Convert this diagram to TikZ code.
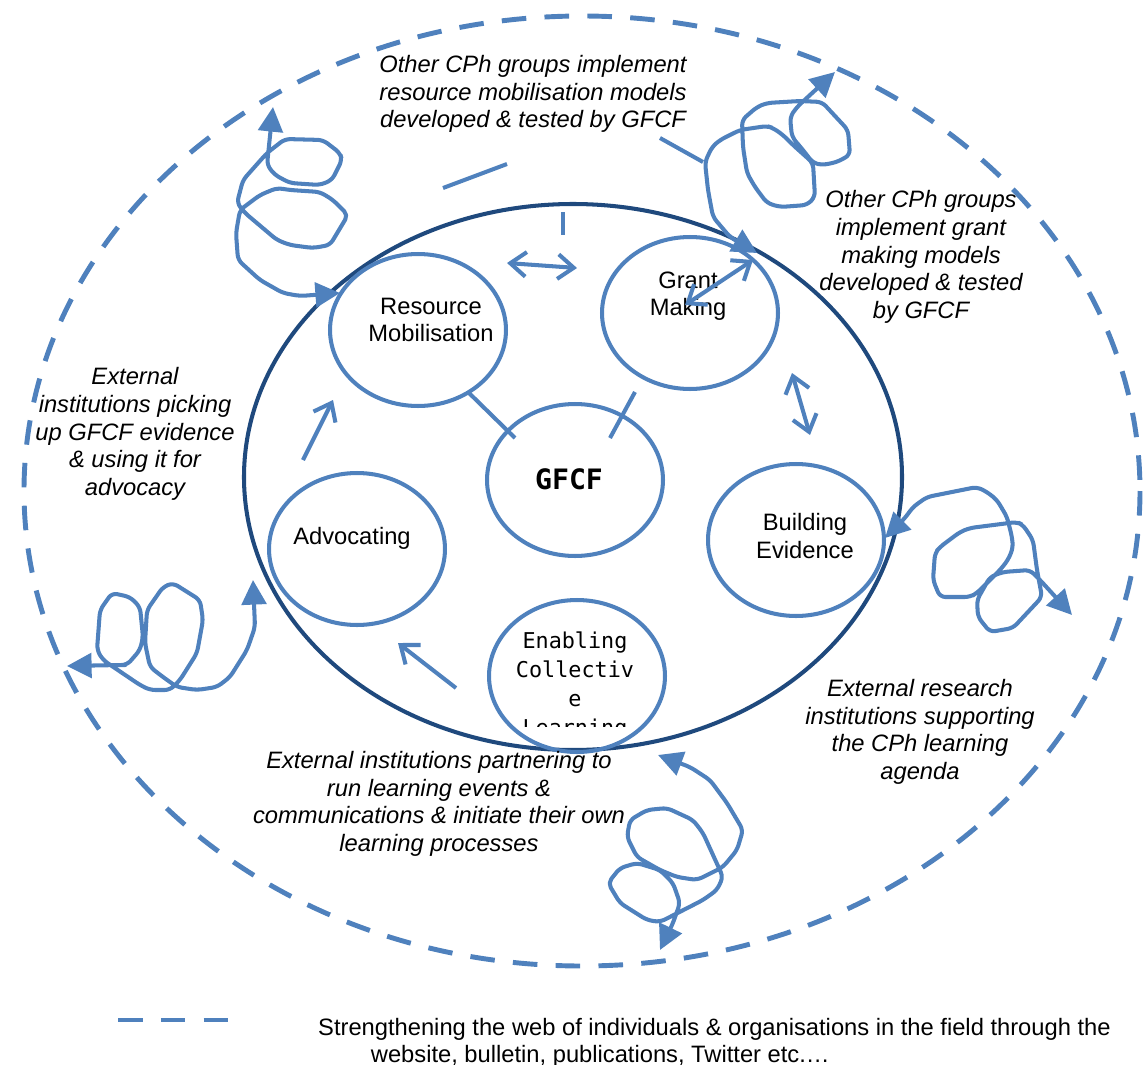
\documentclass[tikz,border=0pt]{standalone}
\usepackage{fontspec}
\setmainfont{Liberation Sans}
\setmonofont{DejaVu Sans Mono}
\usepackage{xcolor}
\usetikzlibrary{arrows.meta,shapes.geometric}
\definecolor{cphblue}{RGB}{79,129,189}
\definecolor{cphnavy}{RGB}{31,73,125}
\tikzset{
  ring/.style={ellipse, draw=cphblue, line width=2.3pt, minimum width=3.52cm, minimum height=3.04cm, inner sep=0pt},
  lbl/.style={align=center, font=\fontsize{13.5}{15.4}\selectfont},
  monolbl/.style={align=center, font=\ttfamily\fontsize{12.4}{16.4}\selectfont},
  note/.style={align=center, font=\fontsize{13.5}{15.7}\selectfont\itshape},
  web/.style={cphblue, line width=2.8pt, dash pattern=on 14pt off 10.4pt},
  twoway/.style={{Straight Barb[length=9pt,width=14pt]}-{Straight Barb[length=9pt,width=14pt]}, cphblue, line width=2.3pt},
  oneway/.style={-{Straight Barb[length=9pt,width=14pt]}, cphblue, line width=2.3pt},
  tie/.style={cphblue, line width=2.3pt},
  doodle/.style={{Triangle[length=14pt,width=14pt]}-{Triangle[length=14pt,width=14pt]}, cphblue, line width=2.3pt, rounded corners=3pt, line join=round},
}

\begin{document}
\begin{tikzpicture}[x=0.02cm, y=-0.02cm]
\useasboundingbox (0,0) rectangle (1144,1065);

% field and the GFCF core
\draw[web] (582,491) ellipse [x radius=558, y radius=475];
\draw[cphnavy, line width=2.3pt] (573,477) ellipse [x radius=329, y radius=273];

% the five functions round GFCF
\node[ring] (rm)   at (418,330) {};
\node[ring] (gm)   at (690,313) {};
\node[ring] (gfcf) at (575,480) {};
\node[ring] (be)   at (796,540) {};
\node[ring] (adv)  at (357,549) {};
\node[ring] (ecl)  at (577,676) {};

\node[lbl] (rmtxt)  at (431,320) {Resource\\Mobilisation};
\node[lbl] (gmtxt)  at (688,296) {Grant\\Making};
\node[font=\ttfamily\bfseries\fontsize{16}{19}\selectfont] (gfcftxt) at (569,479) {GFCF};
\node[lbl] (betxt)  at (805,536) {Building\\Evidence};
\node[lbl] (advtxt) at (352,538) {Advocating};
\begin{scope}
  \clip (480,600) rectangle (670,726);
  \node[monolbl] (ecltxt) at (575,686) {Enabling\\Collectiv\\e\\Learning};
\end{scope}

% links inside the core
\coordinate (rmA) at (507,263);  \coordinate (gmA) at (577,268);
\coordinate (gmB) at (685,305);  \coordinate (gmC) at (753,260);
\coordinate (gmD) at (792,373);  \coordinate (beA) at (810,435);
\coordinate (advA) at (303,460); \coordinate (rmB) at (333,400);
\coordinate (eclA) at (456,688); \coordinate (advB) at (398,643);
\coordinate (rmC) at (468,392);  \coordinate (gfA) at (515,438);
\coordinate (gmE) at (635,392);  \coordinate (gfB) at (610,438);
\coordinate (tkA) at (563,212);  \coordinate (tkB) at (563,235);
\coordinate (tkC) at (443,188);  \coordinate (tkD) at (507,164);
\coordinate (tkE) at (660,138);  \coordinate (tkF) at (703,162);

\draw[twoway] (rmA) -- (gmA);
\draw[twoway] (gmB) -- (gmC);
\draw[twoway] (gmD) -- (beA);
\draw[oneway] (advA) -- (rmB);
\draw[oneway] (eclA) -- (advB);
\draw[tie] (rmC) -- (gfA);
\draw[tie] (gmE) -- (gfB);
\draw[tie] (tkA) -- (tkB);
\draw[tie] (tkC) -- (tkD);
\draw[tie] (tkE) -- (tkF);

% loops reaching out into the field
\draw[doodle] (273,107) -- (267,165) -- (275,175) -- (290,183) -- (320,185) -- (332,180) -- (342,160) -- (340,153) -- (323,140) -- (285,139) -- (267,153) -- (243,180) -- (237,203) -- (245,213) -- (277,240) -- (290,245) -- (313,248) -- (330,245) -- (348,215) -- (333,200) -- (320,192) -- (290,190) -- (277,188) -- (260,195) -- (240,210) -- (236,233) -- (238,260) -- (260,280) -- (283,293) -- (300,296) -- (340,293);
\draw[doodle] (757,253) -- (730,237) -- (713,217) -- (708,190) -- (705,162) -- (712,147) -- (720,140) -- (740,130) -- (767,126) -- (773,128) -- (783,135) -- (793,145) -- (813,163) -- (815,197) -- (807,205) -- (780,207) -- (767,203) -- (755,187) -- (747,173) -- (743,147) -- (742,120) -- (757,107) -- (767,103) -- (800,101) -- (822,102) -- (848,130) -- (850,155) -- (837,162) -- (823,165) -- (813,163) -- (803,150) -- (792,137) -- (790,117) -- (797,107) -- (835,72);
\draw[doodle] (885,538) -- (905,518) -- (913,507) -- (927,497) -- (977,487) -- (987,492) -- (997,500) -- (1007,517) -- (1012,537) -- (1013,548) -- (1008,560) -- (1000,570) -- (977,593) -- (970,597) -- (940,597) -- (933,580) -- (935,553) -- (940,547) -- (960,532) -- (970,528) -- (1017,522) -- (1023,525) -- (1033,540) -- (1037,570) -- (1042,597) -- (1013,628) -- (990,632) -- (978,617) -- (977,600) -- (990,577) -- (1003,572) -- (1030,570) -- (1040,580) -- (1072,615);
\draw[doodle] (67,666) -- (120,665) -- (127,665) -- (140,650) -- (143,637) -- (140,607) -- (130,597) -- (112,593) -- (100,610) -- (97,650) -- (103,660) -- (140,685) -- (150,690) -- (170,690) -- (180,680) -- (197,653) -- (203,620) -- (200,600) -- (173,583) -- (163,587) -- (147,610) -- (145,643) -- (150,667) -- (163,677) -- (177,687) -- (197,690) -- (217,687) -- (230,677) -- (247,650) -- (255,627) -- (253,580);
\draw[doodle] (658,755) -- (690,767) -- (710,780) -- (727,803) -- (743,830) -- (737,850) -- (723,867) -- (697,880) -- (677,877) -- (660,870) -- (637,857) -- (627,837) -- (630,820) -- (647,810) -- (667,808) -- (693,820) -- (703,833) -- (723,877) -- (717,890) -- (703,900) -- (660,922) -- (647,920) -- (620,903) -- (608,883) -- (620,868) -- (637,863) -- (660,870) -- (673,883) -- (680,903) -- (673,923) -- (660,950);

% what others take up
\node[note] (notemob)   at (533,94)  {Other CPh groups implement\\resource mobilisation models\\developed \& tested by GFCF};
\node[note] (notegrant) at (921,257) {Other CPh groups\\implement grant\\making models\\developed \& tested\\by GFCF};
\node[note] (noteadv)   at (135,434) {External\\institutions picking\\up GFCF evidence\\\& using it for\\advocacy};
\node[note] (noteres)   at (920,732) {External research\\institutions supporting\\the CPh learning\\agenda};
\node[note] (notelearn) at (439,804) {External institutions partnering to\\run learning events \&\\communications \& initiate their own\\learning processes};

% key
\coordinate (keyA) at (118,1020);
\coordinate (keyB) at (228,1020);
\draw[web] (keyA) -- (keyB);
\node[anchor=west, align=left, font=\fontsize{13.5}{15.4}\selectfont] (keytxt) at (312,1043)
  {Strengthening the web of individuals \& organisations in the field through the\\\hspace*{30pt}website, bulletin, publications, Twitter etc.…};
\end{tikzpicture}
\end{document}
